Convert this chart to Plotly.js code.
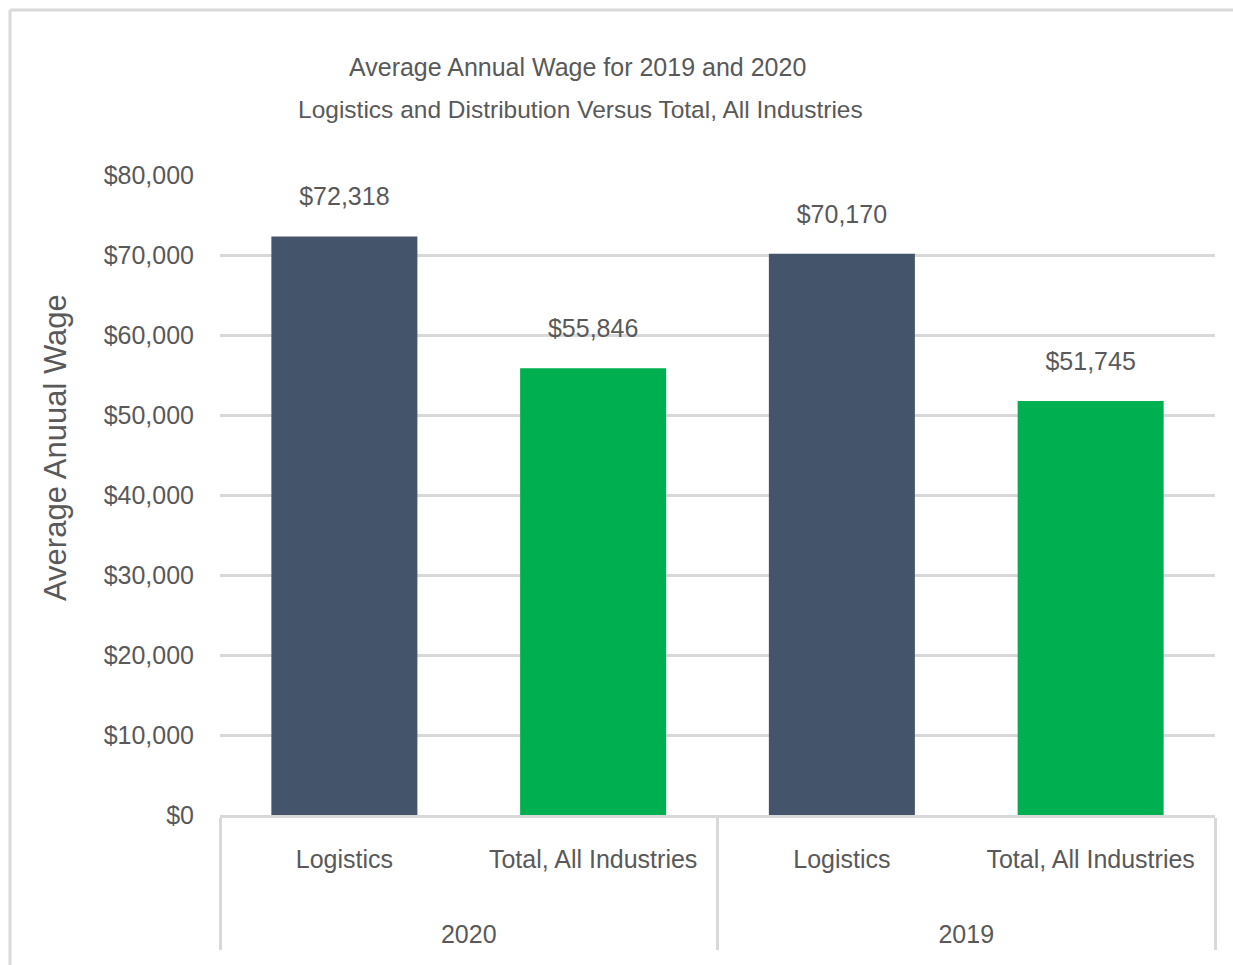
<!DOCTYPE html>
<html>
<head>
<meta charset="utf-8">
<script src="https://cdn.plot.ly/plotly-3.0.1.min.js"></script>
<style>
  html, body { margin: 0; padding: 0; background: #ffffff; }
  #chart { width: 1233px; height: 965px; }
</style>
</head>
<body>
<div id="chart"></div>
<script>
// ---- data ----
const years = ["2020", "2020", "2019", "2019"];
const categories = ["Logistics", "Total, All Industries", "Logistics", "Total, All Industries"];
const wages = [72318, 55846, 70170, 51745];
const yTicks = [0, 10000, 20000, 30000, 40000, 50000, 60000, 70000, 80000];
const titleLines = ["Average Annual Wage for 2019 and 2020", "Logistics and Distribution Versus Total, All Industries"];
const yTitle = "Average Anuual Wage";

// ---- styles ----
const colorFor = { "Logistics": "#44546a", "Total, All Industries": "#00b050" };
const FONT = "Liberation Sans, Arial, sans-serif";
const TXT = "#595959";
const GRID = "#d9d9d9";

const fmt = v => "$" + v.toLocaleString("en-US");
// group labels sit lower than the category labels, as in the original
const groupLabel = y => "\u00a0<br>\u00a0<br>" + y;
const xGroups = years.map(groupLabel);

const bars = {
  type: "bar",
  x: [xGroups, categories],
  y: wages,
  marker: { color: categories.map(c => colorFor[c]), line: { width: 0 } },
  hoverinfo: "skip",
  showlegend: false
};

const labels = {
  type: "scatter",
  mode: "markers+text",
  x: [xGroups, categories],
  y: wages,
  text: wages.map(fmt),
  textposition: "top center",
  textfont: { family: FONT, size: 25, color: TXT },
  marker: { size: 38, color: "rgba(0,0,0,0)" },
  cliponaxis: false,
  hoverinfo: "skip",
  showlegend: false
};

const px2x = px => (px - 220) / 995;
const py2y = py => (815 - py) / 640;

const layout = {
  width: 1233,
  height: 965,
  margin: { l: 220, r: 18, t: 175, b: 150 },
  paper_bgcolor: "#ffffff",
  plot_bgcolor: "#ffffff",
  bargap: 0.413,
  showlegend: false,
  font: { family: FONT, color: TXT },
  xaxis: {
    type: "multicategory",
    showline: true,
    linecolor: GRID,
    linewidth: 3,
    showgrid: false,
    zeroline: false,
    showdividers: true,
    dividercolor: GRID,
    dividerwidth: 3,
    tickangle: 0,
    ticklabelstandoff: 20,
    tickfont: { family: FONT, size: 25, color: TXT },
    fixedrange: true
  },
  yaxis: {
    range: [0, 80000],
    tickvals: yTicks,
    ticktext: yTicks.map(fmt),
    showgrid: true,
    gridcolor: GRID,
    gridwidth: 3,
    zeroline: false,
    showline: false,
    ticklabelstandoff: 25,
    tickfont: { family: FONT, size: 25, color: TXT },
    fixedrange: true
  },
  annotations: [
    {
      xref: "paper", yref: "paper",
      x: px2x(577), y: py2y(67),
      xanchor: "center", yanchor: "middle",
      text: titleLines[0],
      showarrow: false,
      font: { family: FONT, size: 25, color: TXT }
    },
    {
      xref: "paper", yref: "paper",
      x: px2x(580), y: py2y(109),
      xanchor: "center", yanchor: "middle",
      text: titleLines[1],
      showarrow: false,
      font: { family: FONT, size: 24.5, color: TXT }
    },
    {
      xref: "paper", yref: "paper",
      x: px2x(55), y: py2y(448),
      xanchor: "center", yanchor: "middle",
      text: yTitle,
      textangle: -90,
      showarrow: false,
      font: { family: FONT, size: 31, color: TXT }
    }
  ],
  shapes: [
    { type: "line", xref: "paper", yref: "paper", x0: px2x(10), x1: px2x(1240), y0: py2y(10), y1: py2y(10), line: { color: GRID, width: 3 } },
    { type: "line", xref: "paper", yref: "paper", x0: px2x(10), x1: px2x(10), y0: py2y(10), y1: py2y(970), line: { color: GRID, width: 3 } }
  ]
};

Plotly.newPlot("chart", [bars, labels], layout, { staticPlot: true, displayModeBar: false });
</script>
</body>
</html>
